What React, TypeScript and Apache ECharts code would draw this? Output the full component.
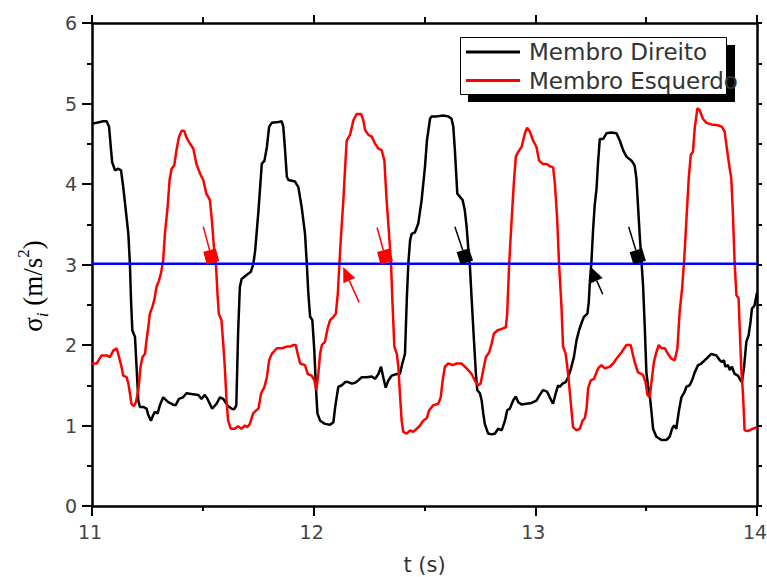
import React, { useEffect, useRef } from "react";
import * as echarts from "echarts";

const xTicks = [11, 12, 13, 14];
const yTicks = [0, 1, 2, 3, 4, 5, 6];

const membroDireito: [number, number][] = [
  [11.000,4.75],[11.021,4.76],[11.051,4.78],[11.066,4.78],[11.077,4.71],[11.086,4.42],[11.091,4.27],[11.104,4.17],[11.119,4.19],[11.131,4.17],[11.141,3.96],[11.151,3.71],[11.164,3.38],[11.171,3.01],[11.176,2.56],[11.182,2.18],[11.194,2.10],[11.201,1.73],[11.209,1.31],[11.216,1.23],[11.231,1.23],[11.246,1.21],[11.254,1.13],[11.266,1.06],[11.276,1.13],[11.284,1.17],[11.296,1.15],[11.306,1.25],[11.321,1.35],[11.344,1.29],[11.366,1.26],[11.377,1.25],[11.392,1.33],[11.411,1.35],[11.426,1.40],[11.449,1.39],[11.479,1.38],[11.494,1.33],[11.509,1.38],[11.521,1.33],[11.542,1.21],[11.562,1.27],[11.577,1.35],[11.592,1.33],[11.611,1.25],[11.629,1.21],[11.641,1.20],[11.651,1.25],[11.659,2.14],[11.667,2.72],[11.675,2.82],[11.697,2.87],[11.717,2.91],[11.728,3.01],[11.736,3.17],[11.751,3.67],[11.766,4.25],[11.778,4.29],[11.789,4.46],[11.799,4.71],[11.811,4.76],[11.841,4.77],[11.856,4.78],[11.863,4.71],[11.871,4.42],[11.879,4.09],[11.886,4.05],[11.916,4.03],[11.931,3.96],[11.946,3.71],[11.961,3.38],[11.969,3.01],[11.976,2.64],[11.984,2.35],[11.994,2.31],[12.003,1.93],[12.010,1.48],[12.017,1.15],[12.029,1.06],[12.051,1.02],[12.074,1.01],[12.089,1.04],[12.097,1.23],[12.111,1.48],[12.127,1.50],[12.142,1.54],[12.156,1.54],[12.172,1.52],[12.187,1.53],[12.201,1.56],[12.217,1.60],[12.239,1.60],[12.262,1.61],[12.277,1.58],[12.292,1.64],[12.304,1.73],[12.314,1.60],[12.325,1.47],[12.337,1.56],[12.352,1.62],[12.375,1.64],[12.389,1.64],[12.400,1.77],[12.412,1.89],[12.420,2.56],[12.427,3.01],[12.435,3.30],[12.442,3.38],[12.457,3.40],[12.472,3.51],[12.487,3.80],[12.502,4.21],[12.511,4.54],[12.525,4.81],[12.532,4.84],[12.555,4.84],[12.585,4.85],[12.607,4.84],[12.622,4.81],[12.630,4.71],[12.637,4.42],[12.648,3.88],[12.660,3.84],[12.672,3.80],[12.682,3.67],[12.690,3.47],[12.697,3.22],[12.705,2.97],[12.713,2.56],[12.723,2.06],[12.732,1.64],[12.738,1.44],[12.750,1.40],[12.758,1.31],[12.765,1.15],[12.772,1.02],[12.787,0.90],[12.803,0.89],[12.818,0.90],[12.832,0.96],[12.848,0.94],[12.863,1.06],[12.873,1.19],[12.885,1.21],[12.900,1.31],[12.912,1.36],[12.923,1.29],[12.938,1.26],[12.960,1.27],[12.983,1.28],[13.005,1.31],[13.020,1.38],[13.035,1.44],[13.053,1.42],[13.065,1.35],[13.080,1.27],[13.092,1.40],[13.103,1.50],[13.110,1.48],[13.123,1.52],[13.137,1.54],[13.148,1.60],[13.159,1.69],[13.174,1.85],[13.186,2.06],[13.197,2.18],[13.208,2.27],[13.219,2.35],[13.235,2.39],[13.241,2.53],[13.246,2.78],[13.253,3.03],[13.261,3.45],[13.268,3.74],[13.276,3.94],[13.283,4.27],[13.291,4.56],[13.306,4.56],[13.321,4.63],[13.343,4.64],[13.366,4.63],[13.381,4.54],[13.396,4.42],[13.411,4.34],[13.434,4.29],[13.448,4.23],[13.456,4.07],[13.463,3.74],[13.471,3.36],[13.479,3.03],[13.486,2.74],[13.494,2.20],[13.501,1.66],[13.508,1.50],[13.516,1.38],[13.524,1.17],[13.531,0.96],[13.546,0.86],[13.569,0.82],[13.591,0.82],[13.606,0.86],[13.617,0.96],[13.626,1.00],[13.636,0.96],[13.647,1.17],[13.659,1.35],[13.674,1.42],[13.681,1.48],[13.696,1.50],[13.707,1.56],[13.719,1.66],[13.734,1.75],[13.749,1.77],[13.772,1.83],[13.794,1.89],[13.817,1.87],[13.832,1.81],[13.842,1.79],[13.851,1.81],[13.857,1.73],[13.869,1.75],[13.877,1.69],[13.887,1.73],[13.899,1.64],[13.914,1.62],[13.926,1.56],[13.932,1.54],[13.941,1.71],[13.952,2.04],[13.962,2.12],[13.971,2.29],[13.977,2.45],[13.989,2.49],[14.000,2.65]
];

const membroEsquerdo: [number, number][] = [
  [11.000,1.77],[11.021,1.77],[11.043,1.87],[11.066,1.87],[11.081,1.85],[11.096,1.93],[11.111,1.96],[11.122,1.85],[11.133,1.73],[11.141,1.62],[11.156,1.60],[11.164,1.52],[11.171,1.40],[11.178,1.27],[11.189,1.24],[11.198,1.29],[11.209,1.44],[11.219,1.73],[11.228,1.85],[11.239,1.89],[11.246,2.06],[11.254,2.22],[11.261,2.39],[11.272,2.47],[11.281,2.56],[11.291,2.72],[11.302,2.80],[11.311,2.89],[11.321,3.05],[11.329,3.38],[11.341,3.71],[11.350,4.05],[11.359,4.19],[11.371,4.23],[11.381,4.42],[11.392,4.58],[11.404,4.66],[11.416,4.66],[11.426,4.58],[11.442,4.50],[11.457,4.44],[11.471,4.25],[11.487,4.13],[11.502,4.05],[11.516,3.88],[11.532,3.80],[11.542,3.51],[11.551,3.18],[11.559,3.01],[11.566,2.64],[11.572,2.39],[11.584,2.31],[11.592,2.02],[11.599,1.73],[11.607,1.31],[11.614,1.06],[11.626,0.96],[11.644,0.96],[11.659,0.99],[11.674,0.96],[11.690,1.00],[11.701,0.98],[11.712,1.02],[11.727,1.15],[11.742,1.19],[11.751,1.21],[11.763,1.40],[11.778,1.48],[11.789,1.60],[11.799,1.81],[11.811,1.89],[11.834,1.96],[11.856,1.96],[11.879,1.98],[11.894,1.98],[11.909,2.00],[11.919,2.00],[11.928,1.89],[11.939,1.77],[11.961,1.75],[11.973,1.64],[11.991,1.62],[12.003,1.56],[12.012,1.44],[12.021,1.64],[12.029,1.89],[12.037,2.00],[12.051,2.04],[12.064,2.22],[12.074,2.31],[12.089,2.35],[12.100,2.39],[12.109,2.64],[12.116,3.01],[12.124,3.38],[12.134,3.80],[12.142,4.21],[12.149,4.54],[12.164,4.61],[12.179,4.79],[12.194,4.87],[12.214,4.87],[12.224,4.79],[12.232,4.67],[12.247,4.61],[12.262,4.59],[12.277,4.50],[12.292,4.44],[12.307,4.42],[12.319,4.29],[12.329,3.80],[12.340,3.38],[12.349,3.01],[12.355,2.56],[12.364,1.98],[12.375,1.89],[12.382,1.73],[12.389,1.40],[12.397,1.06],[12.404,0.92],[12.420,0.90],[12.435,0.94],[12.449,0.92],[12.465,0.96],[12.480,1.00],[12.494,1.06],[12.510,1.09],[12.521,1.19],[12.539,1.25],[12.562,1.27],[12.573,1.35],[12.582,1.56],[12.592,1.73],[12.607,1.77],[12.627,1.75],[12.645,1.77],[12.667,1.77],[12.690,1.71],[12.713,1.64],[12.727,1.56],[12.742,1.50],[12.753,1.52],[12.765,1.69],[12.777,1.85],[12.792,1.91],[12.803,2.02],[12.813,2.14],[12.828,2.18],[12.848,2.20],[12.867,2.22],[12.873,2.39],[12.882,3.01],[12.893,3.55],[12.903,4.01],[12.912,4.34],[12.923,4.40],[12.938,4.46],[12.953,4.63],[12.963,4.70],[12.975,4.65],[12.990,4.54],[13.005,4.46],[13.017,4.29],[13.033,4.25],[13.051,4.25],[13.065,4.22],[13.080,4.21],[13.088,4.01],[13.098,3.59],[13.107,3.01],[13.118,2.47],[13.125,1.98],[13.137,1.89],[13.148,1.64],[13.159,1.31],[13.170,0.98],[13.186,0.94],[13.201,0.96],[13.213,1.06],[13.223,1.09],[13.231,1.21],[13.238,1.46],[13.250,1.56],[13.265,1.58],[13.283,1.71],[13.298,1.75],[13.313,1.71],[13.336,1.73],[13.351,1.77],[13.366,1.83],[13.389,1.91],[13.411,2.00],[13.430,2.00],[13.441,1.87],[13.448,1.79],[13.463,1.66],[13.486,1.63],[13.497,1.54],[13.506,1.38],[13.516,1.35],[13.524,1.54],[13.535,1.79],[13.546,1.91],[13.557,2.00],[13.569,1.96],[13.584,1.96],[13.598,1.89],[13.614,1.83],[13.629,1.81],[13.641,1.96],[13.651,2.41],[13.662,2.70],[13.671,3.03],[13.681,3.53],[13.692,4.07],[13.701,4.36],[13.711,4.40],[13.719,4.69],[13.731,4.94],[13.741,4.92],[13.756,4.81],[13.772,4.76],[13.794,4.74],[13.824,4.73],[13.842,4.71],[13.854,4.65],[13.866,4.40],[13.877,4.19],[13.884,4.07],[13.891,3.65],[13.899,3.03],[13.907,2.62],[13.917,2.58],[13.922,2.20],[13.929,1.71],[13.937,1.38],[13.944,0.94],[13.959,0.93],[13.982,0.96],[14.000,0.98]
];

const limiarT = [11, 14];
const limiarV = [3.01, 3.01];

const markerKinds = ["square", "arrow", "square", "square", "arrow", "square"];
const markerColors = ["#ff0000", "#ff0000", "#ff0000", "#000000", "#000000", "#000000"];
const markerTailT = [11.502, 12.205, 12.286, 12.637, 13.304, 13.421];
const markerTailV = [3.47, 2.53, 3.46, 3.47, 2.63, 3.47];
const markerHeadT = [11.538, 12.133, 12.322, 12.682, 13.25, 13.462];
const markerHeadV = [3.1, 2.97, 3.1, 3.1, 2.97, 3.1];

const seriesNames = ["Membro Direito", "Membro Esquerdo"];

export default function App() {
  const ref = useRef<HTMLDivElement>(null);
  useEffect(() => {
    if (!ref.current) return;
    const chart = echarts.init(ref.current, null, { renderer: "svg" });
    const labelFont = { color: "#444", fontSize: 19, fontFamily: "DejaVu Sans" };
    const axisLine = { show: true, onZero: false, lineStyle: { color: "#000", width: 2.5 } };
    const tickStyle = { color: "#000", width: 2 };
    chart.setOption({
      animation: false,
      backgroundColor: "#fff",
      grid: { left: 92, right: 10, top: 23, bottom: 71, containLabel: false, outerBoundsMode: "none" },
      legend: {
        orient: "vertical",
        left: 466,
        top: 40,
        padding: 0,
        itemGap: 4.5,
        itemWidth: 54,
        itemHeight: 3,
        icon: "rect",
        z: 10,
        data: seriesNames,
        textStyle: { fontFamily: "DejaVu Sans", fontSize: 23, color: "#333", lineHeight: 24, padding: [0, 0, 0, 4] },
      },
      xAxis: [
        {
          type: "value", min: xTicks[0], max: xTicks[xTicks.length - 1], interval: 1, position: "bottom",
          axisLine, splitLine: { show: false },
          axisTick: { show: true, inside: false, length: 10, lineStyle: tickStyle },
          minorTick: { show: true, splitNumber: 2, length: 5, lineStyle: tickStyle },
          axisLabel: { ...labelFont, margin: 16, padding: [0, 4, 0, 0] },
          name: "t (s)", nameLocation: "middle", nameGap: 48,
          nameTextStyle: { fontFamily: "DejaVu Sans", fontSize: 21, color: "#333", lineHeight: 22 },
        },
        {
          type: "value", min: xTicks[0], max: xTicks[xTicks.length - 1], interval: 1, position: "top",
          axisLine, splitLine: { show: false },
          axisTick: { show: true, inside: false, length: 8, lineStyle: tickStyle },
          minorTick: { show: true, splitNumber: 2, length: 6, lineStyle: tickStyle },
          axisLabel: { show: false },
        },
      ],
      yAxis: [
        {
          type: "value", min: yTicks[0], max: yTicks[yTicks.length - 1], interval: 1, position: "left",
          axisLine, splitLine: { show: false },
          axisTick: { show: true, inside: false, length: 10, lineStyle: tickStyle },
          minorTick: { show: true, splitNumber: 2, length: 5, lineStyle: tickStyle },
          axisLabel: { ...labelFont, margin: 15 },
        },
        {
          type: "value", min: yTicks[0], max: yTicks[yTicks.length - 1], interval: 1, position: "right",
          axisLine, splitLine: { show: false },
          axisTick: { show: true, inside: false, length: 5, lineStyle: tickStyle },
          minorTick: { show: true, splitNumber: 2, length: 5, lineStyle: tickStyle },
          axisLabel: { show: false },
        },
      ],
      graphic: [
        { type: "rect", z: 5, shape: { x: 468, y: 45, width: 267, height: 57 }, style: { fill: "#000" } },
        { type: "rect", z: 6, shape: { x: 460.5, y: 37.5, width: 266, height: 57 }, style: { fill: "#fff", stroke: "#000", lineWidth: 1 } },
        {
          type: "text", z: 10, x: 33, y: 286, rotation: Math.PI / 2,
          style: {
            text: "{a|σ}{s|i}{a| (m/s}{p|2}{a|)}",
            align: "center", verticalAlign: "middle",
            rich: {
              a: { fontFamily: "Liberation Serif", fontSize: 27, lineHeight: 36, verticalAlign: "middle", fill: "#000" },
              s: { fontFamily: "Liberation Serif", fontSize: 17, fontStyle: "italic", lineHeight: 17, verticalAlign: "bottom", fill: "#000" },
              p: { fontFamily: "Liberation Serif", fontSize: 17, lineHeight: 17, verticalAlign: "top", fill: "#000" },
            },
          },
        },
      ],
      series: [
        {
          name: seriesNames[0], type: "line", data: membroDireito, showSymbol: false, symbol: "none",
          lineStyle: { color: "#000", width: 2.5 }, itemStyle: { color: "#000" }, z: 2,
        },
        {
          name: seriesNames[1], type: "line", data: membroEsquerdo, showSymbol: false, symbol: "none",
          lineStyle: { color: "#ff0000", width: 2.5 }, itemStyle: { color: "#ff0000" }, z: 2,
        },
        {
          name: "limiar", type: "line", data: limiarT.map((t, i) => [t, limiarV[i]]), showSymbol: false, symbol: "none",
          lineStyle: { color: "#0000ff", width: 2.5 }, itemStyle: { color: "#0000ff" }, z: 3,
        },
        {
          name: "marcadores", type: "custom", coordinateSystem: "cartesian2d", z: 4, silent: true,
          data: markerHeadT.map((t, i) => [markerTailT[i], markerTailV[i], t, markerHeadV[i]]),
          encode: { x: [0, 2], y: [1, 3] },
          renderItem: (params: any, api: any) => {
            const i = params.dataIndex;
            const a = api.coord([api.value(0), api.value(1)]);
            const b = api.coord([api.value(2), api.value(3)]);
            const dx = b[0] - a[0], dy = b[1] - a[1];
            const L = Math.hypot(dx, dy) || 1;
            const ux = dx / L, uy = dy / L;
            const nx = -uy, ny = ux;
            const color = markerColors[i];
            let points: number[][];
            let end: number[];
            if (markerKinds[i] === "square") {
              const s = 6.5;
              points = [
                [b[0] + ux * s + nx * s, b[1] + uy * s + ny * s],
                [b[0] + ux * s - nx * s, b[1] + uy * s - ny * s],
                [b[0] - ux * s - nx * s, b[1] - uy * s - ny * s],
                [b[0] - ux * s + nx * s, b[1] - uy * s + ny * s],
              ];
              end = [b[0] - ux * s, b[1] - uy * s];
            } else {
              const len = 15, w = 6.5;
              const base = [b[0] - ux * len, b[1] - uy * len];
              points = [
                [b[0], b[1]],
                [base[0] + nx * w, base[1] + ny * w],
                [base[0] - nx * w, base[1] - ny * w],
              ];
              end = base;
            }
            return {
              type: "group",
              children: [
                { type: "line", shape: { x1: a[0], y1: a[1], x2: end[0], y2: end[1] }, style: { stroke: color, lineWidth: 1.5 } },
                { type: "polygon", shape: { points }, style: { fill: color } },
              ],
            };
          },
        },
      ],
    });
    return () => chart.dispose();
  }, []);
  return <div ref={ref} style={{ position: "fixed", left: 0, top: 0, width: 767, height: 577 }} />;
}
